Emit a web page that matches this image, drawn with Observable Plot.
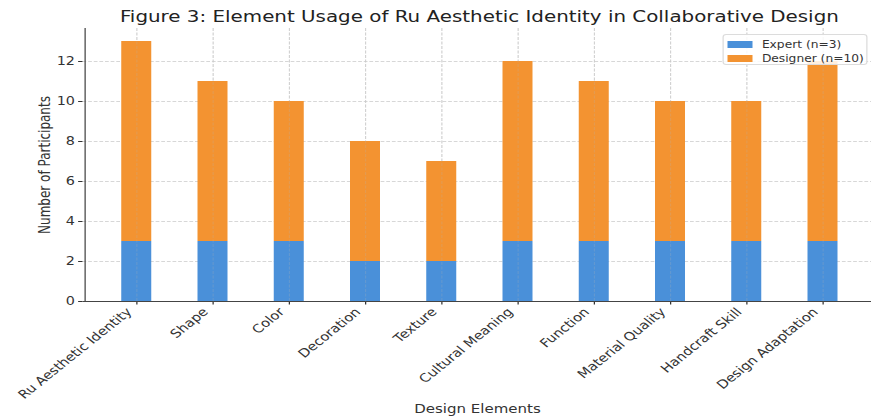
<!DOCTYPE html>
<html>
<head>
<meta charset="utf-8">
<script src="https://cdn.jsdelivr.net/npm/d3@7"></script>
<script src="https://cdn.jsdelivr.net/npm/@observablehq/plot@0.6"></script>
<style>
  html, body { margin: 0; padding: 0; background: #fff; overflow: hidden; }
  #outer { width: 871px; height: 419px; overflow: hidden; position: relative; }
  #wrap { position: absolute; left: 0; top: 0; width: 697px; height: 419px; transform: scale(1.25, 1); transform-origin: 0 0; font-family: "DejaVu Sans", sans-serif; }
  #title { position: absolute; left: 66px; width: 635px; top: 7px; line-height: 20px; text-align: center; font-size: 15.9px; color: #222; white-space: nowrap; }
  #legend { position: absolute; left: 577.5px; top: 34px; width: 116px; height: 31px; box-sizing: border-box; padding-top: 2px; background: rgba(255,255,255,0.85); border: 1px solid #dcdcdc; border-radius: 3px; font-size: 9.8px; color: #333; }
  #legend .row { display: flex; align-items: center; height: 14px; padding-left: 3px; }
  #legend .sw { width: 20px; height: 7px; margin-right: 8px; flex: none; }
  #chart svg { display: block; }
</style>
</head>
<body>
<div id="outer">
<div id="wrap">
  <div id="chart"></div>
  <div id="title">Figure 3: Element Usage of Ru Aesthetic Identity in Collaborative Design</div>
  <div id="legend"></div>
</div>
</div>
<script>
const categories = ["Ru Aesthetic Identity", "Shape", "Color", "Decoration", "Texture", "Cultural Meaning", "Function", "Material Quality", "Handcraft Skill", "Design Adaptation"];
const expertValues = [3, 3, 3, 2, 2, 3, 3, 3, 3, 3];
const designerValues = [10, 8, 7, 6, 5, 9, 8, 7, 7, 9];
const seriesNames = ["Expert (n=3)", "Designer (n=10)"];
const seriesColors = ["#4a90d9", "#f39331"];
const yTicks = [0, 2, 4, 6, 8, 10, 12];

const rows = [];
categories.forEach((c, i) => {
  rows.push({category: c, group: seriesNames[0], value: expertValues[i]});
  rows.push({category: c, group: seriesNames[1], value: designerValues[i]});
});

const chart = Plot.plot({
  width: 697,
  height: 419,
  marginTop: 28,
  marginBottom: 118,
  marginLeft: 66,
  marginRight: 0,
  style: {fontFamily: "DejaVu Sans, sans-serif", color: "#333", background: "transparent", overflow: "visible"},
  x: {domain: categories, range: [66, 700.7], paddingInner: 0.605, paddingOuter: 0.47, label: null},
  y: {domain: [0, 13.65], label: null},
  color: {domain: seriesNames, range: seriesColors},
  marks: [
    Plot.ruleY(yTicks, {y: d => d, stroke: "#d2d2d2", strokeDasharray: "3,1.5", strokeWidth: 0.8}),
    Plot.ruleX(categories, {x: d => d, stroke: "#d2d2d2", strokeDasharray: "3,1.5", strokeWidth: 0.8}),
    Plot.barY(rows, Plot.stackY({order: seriesNames, x: "category", y: "value", fill: "group"})),
    Plot.ruleX(categories, {x: d => d, stroke: "#b0b0b0", strokeDasharray: "3,1.5", strokeWidth: 0.8, strokeOpacity: 0.3}),
    Plot.axisY({ticks: yTicks, tickSize: 3.5, fontSize: 11.5, tickPadding: 3, label: null, stroke: "#333"}),
    Plot.axisX({tickSize: 3.5, tickFormat: () => "", label: null, stroke: "#333"}),
    Plot.axisX({tickSize: 0, tickRotate: -45, fontSize: 11.8, tickPadding: 6.5, label: null, dx: -6, dy: 2}),
    Plot.ruleX([0], {x: () => categories[0], dx: -41.4, y1: 0, y2: 13.65, stroke: "#444", strokeWidth: 1}),
    Plot.ruleY([0], {stroke: "#444", strokeWidth: 1}),
    Plot.text(["Number of Participants"], {frameAnchor: "left", dx: -30, rotate: -90, fontSize: 12, fill: "#333", textAnchor: "middle"}),
    Plot.text(["Design Elements"], {frameAnchor: "bottom", dy: 111, fontSize: 12, fill: "#333"})
  ]
});
document.getElementById("chart").appendChild(chart);

const legend = document.getElementById("legend");
seriesNames.forEach((name, i) => {
  const row = document.createElement("div");
  row.className = "row";
  const sw = document.createElement("span");
  sw.className = "sw";
  sw.style.background = seriesColors[i];
  const lab = document.createElement("span");
  lab.textContent = name;
  row.appendChild(sw);
  row.appendChild(lab);
  legend.appendChild(row);
});
</script>
</body>
</html>
